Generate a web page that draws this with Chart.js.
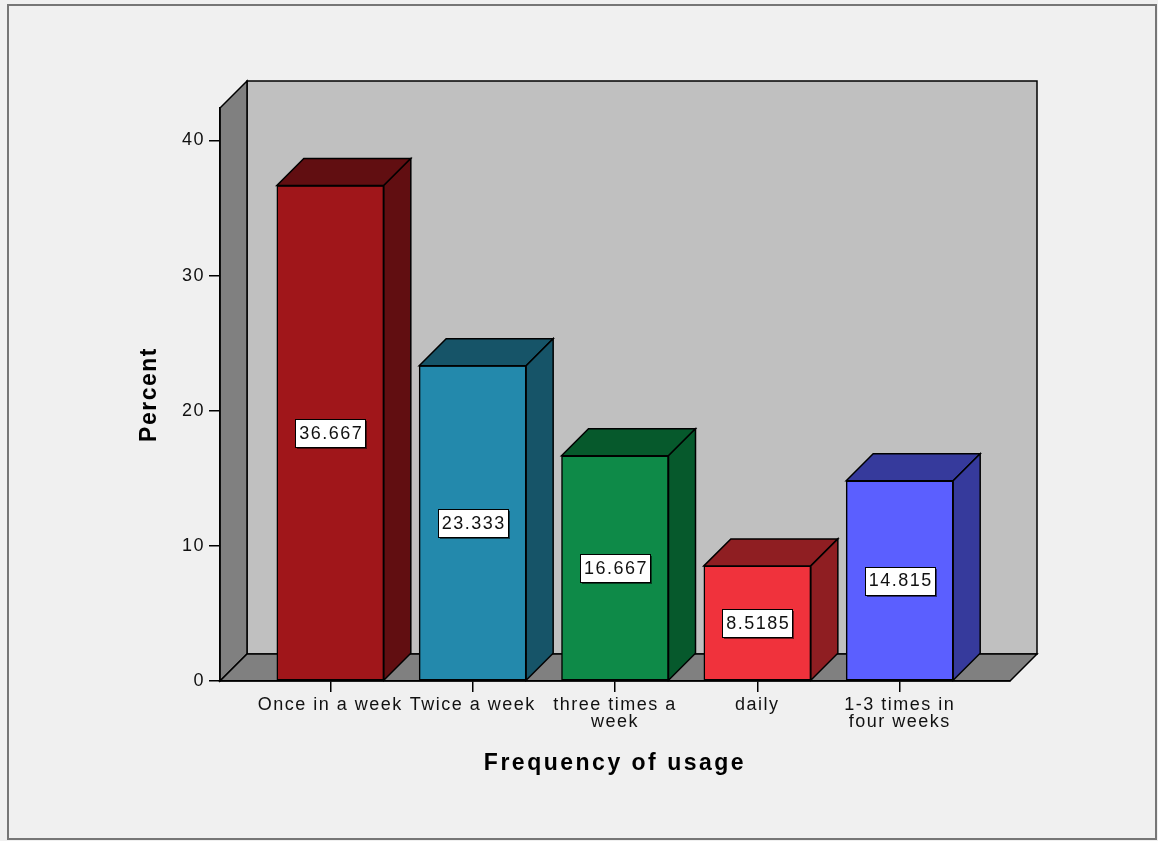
<!DOCTYPE html>
<html>
<head>
<meta charset="utf-8">
<script src="https://cdn.jsdelivr.net/npm/chart.js@4.4.1/dist/chart.umd.min.js"></script>
<style>
  html, body { margin: 0; padding: 0; background: #f0f0f0; }
  canvas { display: block; }
</style>
</head>
<body>
<canvas id="chart" width="1158" height="841"></canvas>
<script>
// Frequency of usage, percent of respondents
const categories = ['Once in a week', 'Twice a week', 'three times a week', 'daily', '1-3 times in four weeks'];
const tickLabels = [['Once in a week'], ['Twice a week'], ['three times a', 'week'], ['daily'], ['1-3 times in', 'four weeks']];
const percents = [36.667, 23.333, 16.667, 8.5185, 14.815];
const yTicks = [0, 10, 20, 30, 40];

const frontColors = ['#a0161a', '#2389ac', '#0e8a48', '#f0323c', '#5b5fff'];
const shadeColors = ['#610e11', '#165468', '#06592c', '#8f1e22', '#363a9c'];

const FONT = "'Liberation Sans', Arial, sans-serif";
const DEPTH = 27;          // oblique depth of the 3D box, px
const EDGE = '#000';
const EDGE_W = 1.5;

function poly(ctx, pts, fill) {
  ctx.beginPath();
  ctx.moveTo(pts[0][0], pts[0][1]);
  for (let i = 1; i < pts.length; i++) ctx.lineTo(pts[i][0], pts[i][1]);
  ctx.closePath();
  ctx.fillStyle = fill;
  ctx.fill();
  ctx.lineJoin = 'miter';
  ctx.strokeStyle = EDGE;
  ctx.lineWidth = EDGE_W;
  ctx.stroke();
}

// Background, outer frame and the walls/floor of the 3D box
const frame3d = {
  id: 'frame3d',
  beforeDraw(chart) {
    const { ctx, chartArea: a, width, height } = chart;
    const d = DEPTH;
    ctx.save();
    ctx.fillStyle = '#f0f0f0';
    ctx.fillRect(0, 0, width, height);
    ctx.strokeStyle = '#767676';
    ctx.lineWidth = 2;
    ctx.strokeRect(8, 5, width - 10, height - 7);
    // back wall
    poly(ctx, [[a.left + d, a.top - d], [a.right + d, a.top - d], [a.right + d, a.bottom - d], [a.left + d, a.bottom - d]], '#c0c0c0');
    // left wall
    poly(ctx, [[a.left, a.top], [a.left + d, a.top - d], [a.left + d, a.bottom - d], [a.left, a.bottom]], '#808080');
    // floor
    poly(ctx, [[a.left, a.bottom], [a.left + d, a.bottom - d], [a.right + d, a.bottom - d], [a.right, a.bottom]], '#808080');
    ctx.restore();

    // text spacing for all labels; the x title gets a wider one
    ctx.letterSpacing = '1.5px';
    const xs = chart.scales.x;
    if (!xs._wideTitle) {
      const base = xs.drawTitle.bind(xs);
      xs.drawTitle = function () {
        const c = this.ctx;
        const prev = c.letterSpacing;
        c.letterSpacing = '2.5px';
        base();
        c.letterSpacing = prev;
      };
      xs._wideTitle = true;
    }
  }
};

// Top and side faces of each bar, plus the boxed value labels
const bars3d = {
  id: 'bars3d',
  afterDatasetsDraw(chart) {
    const { ctx } = chart;
    const d = DEPTH;
    const meta = chart.getDatasetMeta(0);
    ctx.save();
    meta.data.forEach((bar, i) => {
      const { x, y, base, width } = bar.getProps(['x', 'y', 'base', 'width'], true);
      const l = x - width / 2, r = x + width / 2;
      poly(ctx, [[l, y], [l + d, y - d], [r + d, y - d], [r, y]], shadeColors[i]);
      poly(ctx, [[r, y], [r + d, y - d], [r + d, base - d], [r, base]], shadeColors[i]);
    });
    meta.data.forEach((bar, i) => {
      const { x, y, base } = bar.getProps(['x', 'y', 'base'], true);
      const text = String(percents[i]);
      ctx.font = '18px ' + FONT;
      ctx.letterSpacing = '1.5px';
      const tw = ctx.measureText(text).width;
      const bw = Math.round(tw + 6), bh = 28;
      const cy = (y + base) / 2;
      const bx = Math.round(x - bw / 2) + 0.5, by = Math.round(cy - bh / 2) + 0.5;
      ctx.fillStyle = 'rgba(0,0,0,0.55)';
      ctx.fillRect(bx + 1.5, by + 1.5, bw, bh);
      ctx.fillStyle = '#fff';
      ctx.fillRect(bx, by, bw, bh);
      ctx.strokeStyle = '#000';
      ctx.lineWidth = 1;
      ctx.strokeRect(bx, by, bw, bh);
      ctx.fillStyle = '#111';
      ctx.textAlign = 'center';
      ctx.textBaseline = 'middle';
      ctx.fillText(text, x + 1, cy + 1);
    });
    ctx.restore();
  }
};

new Chart(document.getElementById('chart'), {
  type: 'bar',
  data: {
    datasets: [{
      label: 'Percent',
      data: percents.map((v, i) => ({ x: i, y: v })),
      backgroundColor: frontColors,
      borderColor: EDGE,
      borderWidth: EDGE_W,
      borderSkipped: false,
      barThickness: 107
    }]
  },
  options: {
    responsive: false,
    animation: false,
    devicePixelRatio: 1,
    layout: { padding: { left: 0, top: 108, right: 148, bottom: 0 } },
    plugins: { legend: { display: false }, tooltip: { enabled: false } },
    scales: {
      x: {
        type: 'linear',
        min: -0.775,
        max: 4.775,
        offset: false,
        afterBuildTicks: s => { s.ticks = categories.map((_, i) => ({ value: i })); },
        afterFit: s => { s.height = 160; },
        grid: { display: true, offset: false, drawOnChartArea: false, drawTicks: true, tickLength: 11, color: EDGE, lineWidth: 1.5 },
        border: { display: true, color: EDGE, width: 1.5 },
        ticks: {
          autoSkip: false, maxRotation: 0, minRotation: 0, padding: 4, color: '#111',
          font: { family: FONT, size: 18, lineHeight: 0.95 },
          callback: v => tickLabels[v]
        },
        title: {
          display: true, text: 'Frequency of usage', color: '#000',
          font: { family: FONT, size: 23, weight: 'bold' },
          padding: { top: 0, bottom: 64 }
        }
      },
      y: {
        type: 'linear',
        min: 0,
        max: 42.4,
        afterBuildTicks: s => { s.ticks = yTicks.map(v => ({ value: v })); },
        afterFit: s => { s.width = 220; },
        grid: { display: true, drawOnChartArea: false, drawTicks: true, tickLength: 11, color: EDGE, lineWidth: 1.5 },
        border: { display: true, color: EDGE, width: 1.5 },
        ticks: { padding: 4, color: '#111', font: { family: FONT, size: 18 } },
        title: {
          display: true, text: 'Percent', color: '#000',
          font: { family: FONT, size: 23, weight: 'bold' },
          padding: { top: 136, bottom: 0 }
        }
      }
    }
  },
  plugins: [frame3d, bars3d]
});
</script>
</body>
</html>
